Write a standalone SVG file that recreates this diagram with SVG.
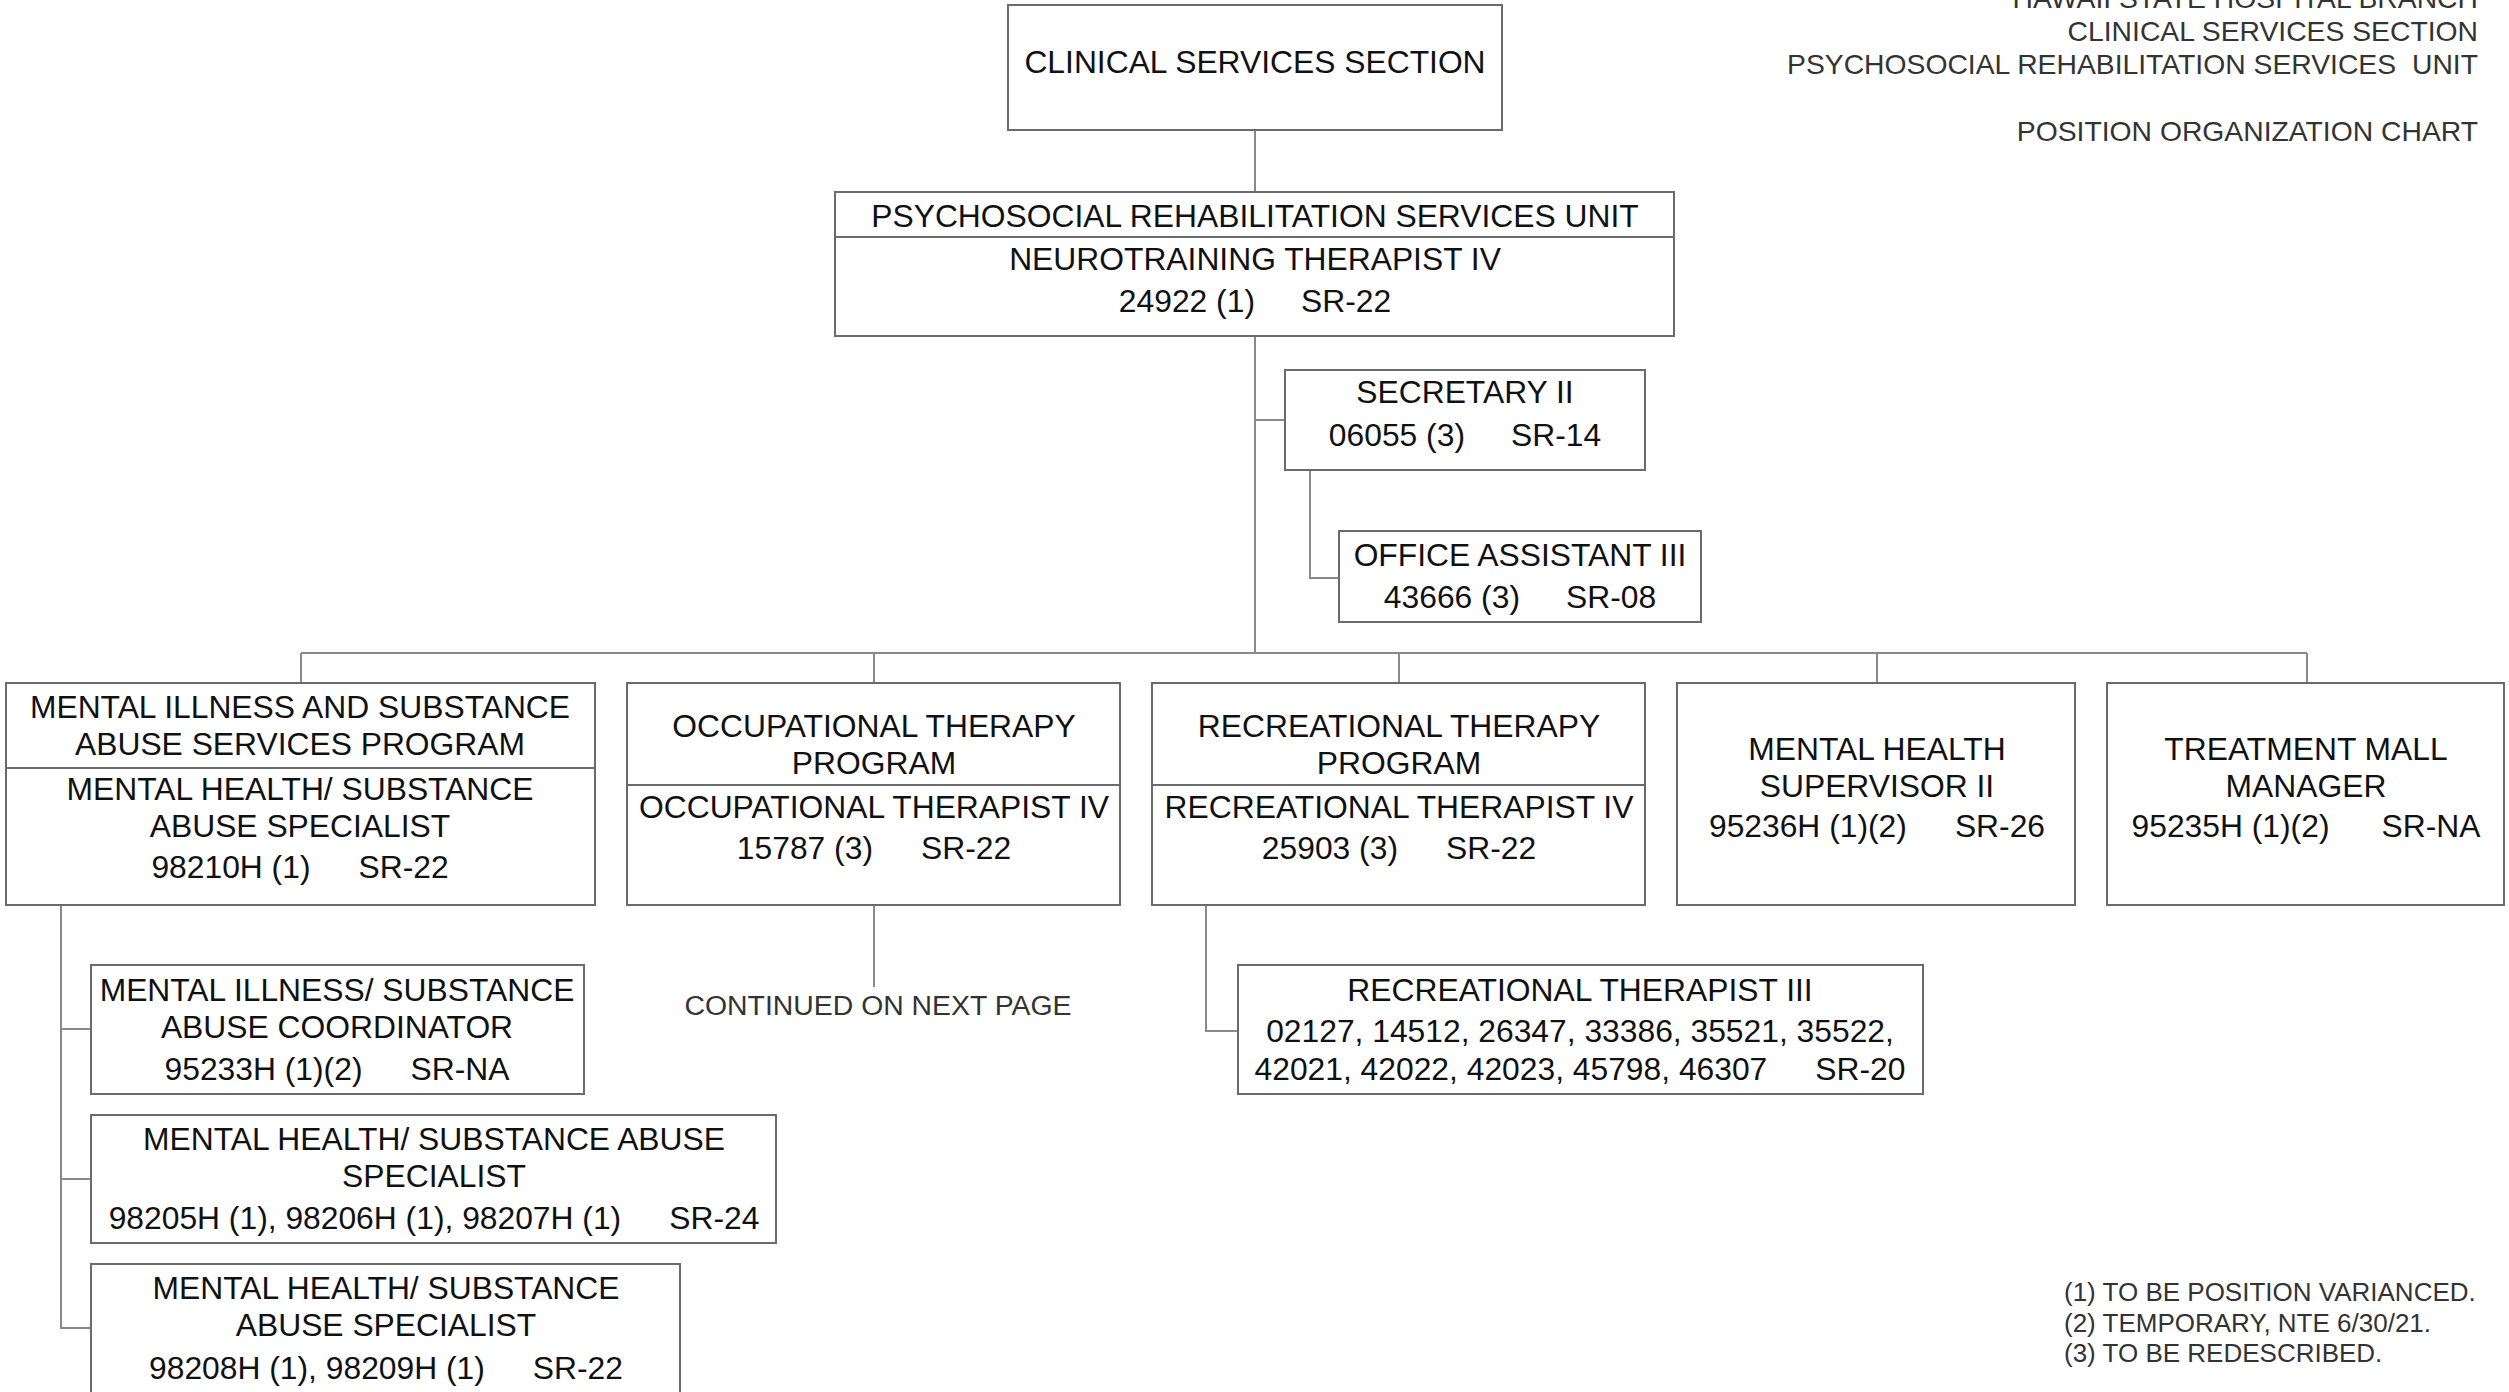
<svg xmlns="http://www.w3.org/2000/svg" width="2509" height="1392" viewBox="0 0 2509 1392">
<style>
.box{fill:#fff;stroke:#6b6b6b;stroke-width:2}
.div{stroke:#6b6b6b;stroke-width:2}
.conn{stroke:#8a8a8a;stroke-width:2;fill:none}
text{font-family:"Liberation Sans",Arial,sans-serif}
.t{font-size:31.8px;fill:#111;text-anchor:middle}
.hdr{font-size:28.3px;fill:#333;text-anchor:end}
.note{font-size:26px;fill:#333}
.cont{font-size:28.4px;fill:#333;text-anchor:middle}
</style>
<rect width="2509" height="1392" fill="#fff"/>

<g id="header">
<text class="hdr" x="2478" y="8">HAWAII STATE HOSPITAL BRANCH</text>
<text class="hdr" x="2478" y="41">CLINICAL SERVICES SECTION</text>
<text class="hdr" x="2478" y="74">PSYCHOSOCIAL REHABILITATION SERVICES <tspan dx="8">UNIT</tspan></text>
<text class="hdr" x="2478" y="141">POSITION ORGANIZATION CHART</text>
</g>

<g id="connectors">
<path class="conn" d="M1255 130V192"/>
<path class="conn" d="M1255 336V653"/>
<path class="conn" d="M1255 420H1285"/>
<path class="conn" d="M1310 470V578H1339"/>
<path class="conn" d="M301 653H2307"/>
<path class="conn" d="M301 653V683M874 653V683M1399 653V683M1877 653V683M2307 653V683"/>
<path class="conn" d="M874 905V987"/>
<path class="conn" d="M1206 905V1031H1238"/>
<path class="conn" d="M61 905V1328H91M61 1029H91M61 1179H91"/>
</g>

<g id="clinical-services-section">
<rect class="box" x="1008" y="5" width="494" height="125"/>
<text class="t" x="1255" y="73">CLINICAL SERVICES SECTION</text>
</g>

<g id="psychosocial-unit">
<rect class="box" x="835" y="192" width="839" height="144"/>
<line class="div" x1="835" y1="237" x2="1674" y2="237"/>
<text class="t" x="1255" y="227">PSYCHOSOCIAL REHABILITATION SERVICES UNIT</text>
<text class="t" x="1255" y="270">NEUROTRAINING THERAPIST IV</text>
<text class="t" x="1255" y="312">24922 (1)<tspan dx="46">SR-22</tspan></text>
</g>

<g id="secretary-ii">
<rect class="box" x="1285" y="370" width="360" height="100"/>
<text class="t" x="1465" y="403">SECRETARY II</text>
<text class="t" x="1465" y="446">06055 (3)<tspan dx="46">SR-14</tspan></text>
</g>

<g id="office-assistant-iii">
<rect class="box" x="1339" y="531" width="362" height="91"/>
<text class="t" x="1520" y="566">OFFICE ASSISTANT III</text>
<text class="t" x="1520" y="608">43666 (3)<tspan dx="46">SR-08</tspan></text>
</g>

<g id="misa-program">
<rect class="box" x="6" y="683" width="589" height="222"/>
<line class="div" x1="6" y1="768" x2="595" y2="768"/>
<text class="t" x="300" y="718">MENTAL ILLNESS AND SUBSTANCE</text>
<text class="t" x="300" y="755">ABUSE SERVICES PROGRAM</text>
<text class="t" x="300" y="800">MENTAL HEALTH/ SUBSTANCE</text>
<text class="t" x="300" y="837">ABUSE SPECIALIST</text>
<text class="t" x="300" y="878">98210H (1)<tspan dx="48">SR-22</tspan></text>
</g>

<g id="ot-program">
<rect class="box" x="627" y="683" width="493" height="222"/>
<line class="div" x1="627" y1="785" x2="1120" y2="785"/>
<text class="t" x="874" y="737">OCCUPATIONAL THERAPY</text>
<text class="t" x="874" y="774">PROGRAM</text>
<text class="t" x="874" y="818">OCCUPATIONAL THERAPIST IV</text>
<text class="t" x="874" y="859">15787 (3)<tspan dx="48">SR-22</tspan></text>
</g>

<g id="continued">
<text class="cont" x="878" y="1015">CONTINUED ON NEXT PAGE</text>
</g>

<g id="rt-program">
<rect class="box" x="1152" y="683" width="493" height="222"/>
<line class="div" x1="1152" y1="785" x2="1645" y2="785"/>
<text class="t" x="1399" y="737">RECREATIONAL THERAPY</text>
<text class="t" x="1399" y="774">PROGRAM</text>
<text class="t" x="1399" y="818">RECREATIONAL THERAPIST IV</text>
<text class="t" x="1399" y="859">25903 (3)<tspan dx="48">SR-22</tspan></text>
</g>

<g id="mh-supervisor-ii">
<rect class="box" x="1677" y="683" width="398" height="222"/>
<text class="t" x="1877" y="760">MENTAL HEALTH</text>
<text class="t" x="1877" y="797">SUPERVISOR II</text>
<text class="t" x="1877" y="837">95236H (1)(2)<tspan dx="48">SR-26</tspan></text>
</g>

<g id="treatment-mall-manager">
<rect class="box" x="2107" y="683" width="397" height="222"/>
<text class="t" x="2306" y="760">TREATMENT MALL</text>
<text class="t" x="2306" y="797">MANAGER</text>
<text class="t" x="2306" y="837">95235H (1)(2)<tspan dx="52">SR-NA</tspan></text>
</g>

<g id="rt-iii">
<rect class="box" x="1238" y="965" width="685" height="129"/>
<text class="t" x="1580" y="1001">RECREATIONAL THERAPIST III</text>
<text class="t" x="1580" y="1042">02127, 14512, 26347, 33386, 35521, 35522,</text>
<text class="t" x="1580" y="1080">42021, 42022, 42023, 45798, 46307<tspan dx="48">SR-20</tspan></text>
</g>

<g id="misa-coordinator">
<rect class="box" x="91" y="965" width="493" height="129"/>
<text class="t" x="337" y="1001">MENTAL ILLNESS/ SUBSTANCE</text>
<text class="t" x="337" y="1038">ABUSE COORDINATOR</text>
<text class="t" x="337" y="1080">95233H (1)(2)<tspan dx="48">SR-NA</tspan></text>
</g>

<g id="mhsa-specialist-sr24">
<rect class="box" x="91" y="1115" width="685" height="128"/>
<text class="t" x="434" y="1150">MENTAL HEALTH/ SUBSTANCE ABUSE</text>
<text class="t" x="434" y="1187">SPECIALIST</text>
<text class="t" x="434" y="1229">98205H (1), 98206H (1), 98207H (1)<tspan dx="48">SR-24</tspan></text>
</g>

<g id="mhsa-specialist-sr22">
<rect class="box" x="91" y="1264" width="589" height="140"/>
<text class="t" x="386" y="1299">MENTAL HEALTH/ SUBSTANCE</text>
<text class="t" x="386" y="1336">ABUSE SPECIALIST</text>
<text class="t" x="386" y="1379">98208H (1), 98209H (1)<tspan dx="48">SR-22</tspan></text>
</g>

<g id="footnotes">
<text class="note" x="2064" y="1301">(1) TO BE POSITION VARIANCED.</text>
<text class="note" x="2064" y="1332">(2) TEMPORARY, NTE 6/30/21.</text>
<text class="note" x="2064" y="1362">(3) TO BE REDESCRIBED.</text>
</g>
</svg>
